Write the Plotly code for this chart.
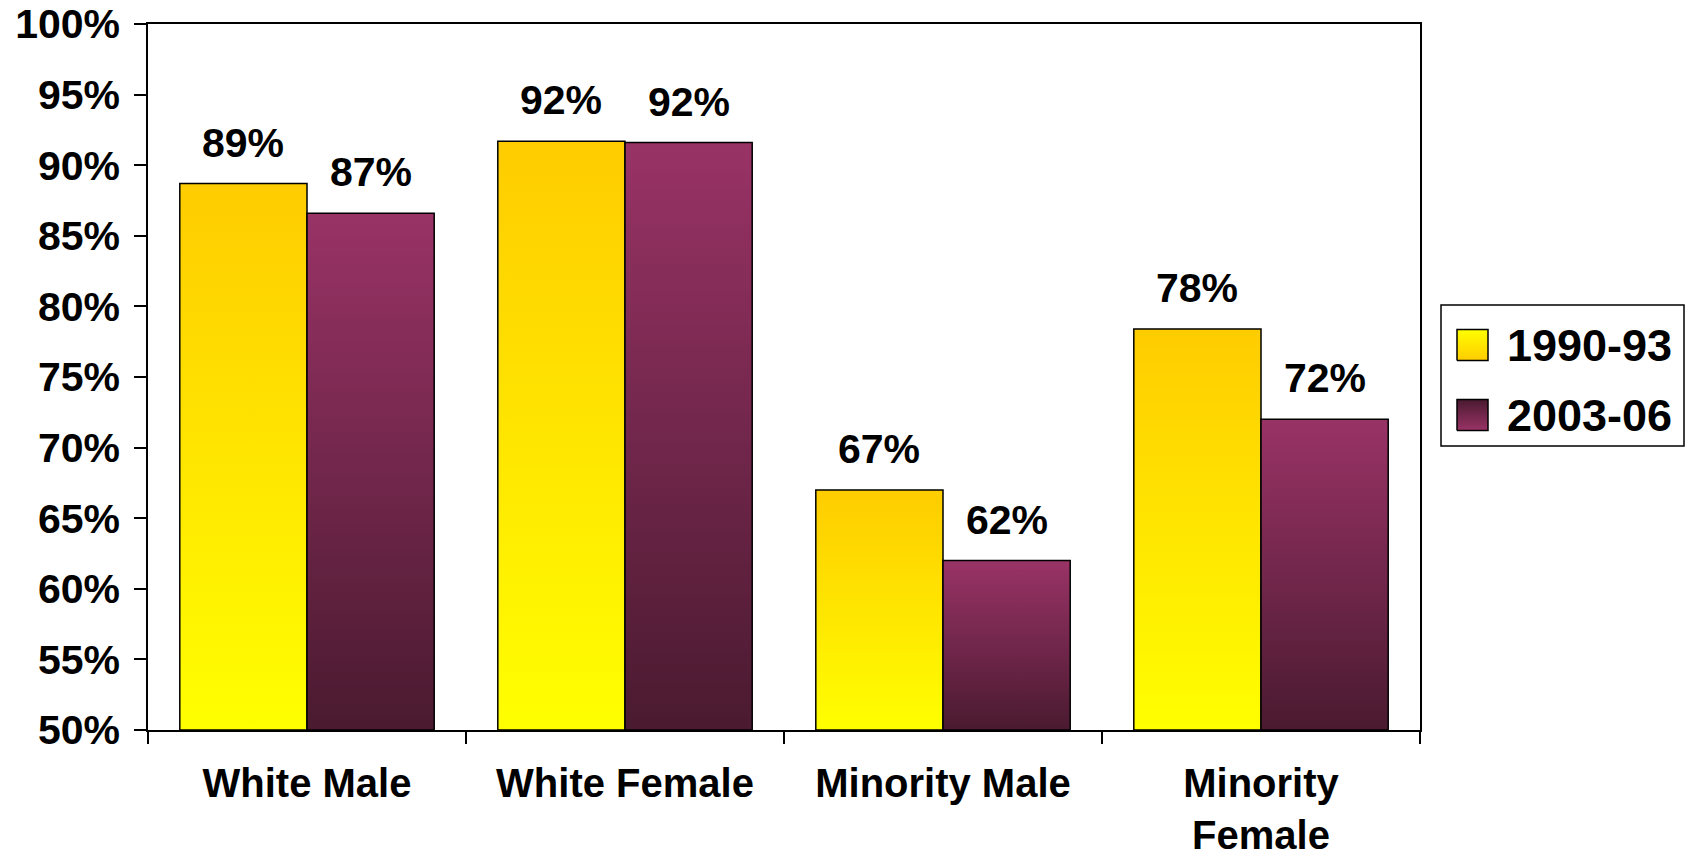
import plotly.graph_objects as go

# ---- data ----
categories = ["White Male", "White Female", "Minority Male", "Minority<br>Female"]
series_names = ["1990-93", "2003-06"]
values_1990 = [88.7, 91.7, 67.0, 78.4]
values_2003 = [86.6, 91.6, 62.0, 72.0]
y_ticks = [50, 55, 60, 65, 70, 75, 80, 85, 90, 95, 100]
y_tick_labels = [f"{v}%" for v in y_ticks]

# ---- styles ----
W, H = 1688, 859
FONT = "Liberation Sans, Arial, sans-serif"
grad_1990 = [[0, "#FFFF00"], [1, "#FFCC00"]]
grad_2003 = [[0, "#4A1A30"], [1, "#993366"]]
series = [(series_names[0], values_1990, grad_1990, -0.4),
          (series_names[1], values_2003, grad_2003, 0.0)]
bar_w = 0.4
base = y_ticks[0]

fig = go.Figure()

# bars as gradient-filled rectangles on the main axes
annotations = []
for name, vals, grad, off in series:
    for i, v in enumerate(vals):
        x0 = i + off
        x1 = x0 + bar_w
        fig.add_trace(go.Scatter(
            x=[x0, x0, x1, x1, x0], y=[base, v, v, base, base],
            mode="lines", fill="toself",
            fillgradient=dict(type="vertical", colorscale=grad),
            line=dict(color="black", width=1.5),
            name=name, showlegend=False,
            hoverinfo="text", text=f"{categories[i].replace('<br>', ' ')}: {v:.0f}%",
            xaxis="x", yaxis="y"))
        annotations.append(dict(
            x=(x0 + x1) / 2, y=v, xref="x", yref="y", text=f"{v:.0f}%",
            showarrow=False, yanchor="bottom", yshift=16,
            font=dict(family=FONT, size=41, color="black", weight="bold")))

# custom legend (box, gradient swatches, labels)
legend_box = dict(x0=1441, x1=1684, y0=305, y1=446)
swatch_rows = [345, 415]
for (name, vals, grad, off), yc in zip(series, swatch_rows):
    sx0, sx1 = 1457, 1488
    sy0, sy1 = yc - 15.5, yc + 15.5
    fig.add_trace(go.Scatter(
        x=[sx0, sx0, sx1, sx1, sx0], y=[sy1, sy0, sy0, sy1, sy1],
        mode="lines", fill="toself",
        fillgradient=dict(type="vertical", colorscale=[[0, grad[1][1]], [1, grad[0][1]]]),
        line=dict(color="black", width=1.5),
        showlegend=False, hoverinfo="skip", xaxis="x2", yaxis="y2"))
    annotations.append(dict(
        x=1505, y=yc, xref="x2", yref="y2", text=name, showarrow=False,
        xanchor="left", yanchor="middle",
        font=dict(family=FONT, size=45, color="black", weight="bold")))

shapes = [dict(type="rect", xref="x2", yref="y2",
               x0=legend_box["x0"], x1=legend_box["x1"],
               y0=legend_box["y0"], y1=legend_box["y1"],
               line=dict(color="black", width=1.5), fillcolor="rgba(0,0,0,0)")]

tick_font = dict(family=FONT, size=41, color="black", weight="bold")
xtick_font = dict(family=FONT, size=40, color="black", weight="bold")

fig.update_layout(
    width=W, height=H, autosize=False,
    margin=dict(l=0, r=0, t=0, b=0, pad=0),
    paper_bgcolor="white", plot_bgcolor="rgba(0,0,0,0)",
    showlegend=False,
    annotations=annotations, shapes=shapes,
    xaxis=dict(
        domain=[148 / W, 1420 / W], range=[-0.5, len(categories) - 0.5],
        tickmode="array", tickvals=list(range(len(categories))), ticktext=categories,
        ticks="", tickfont=xtick_font, ticklabelstandoff=17,
        minor=dict(tickmode="array", tickvals=[i - 0.5 for i in range(len(categories) + 1)],
                   ticks="outside", ticklen=12, tickwidth=1.5, tickcolor="black"),
        showline=True, linecolor="black", linewidth=1.5, mirror=True,
        showgrid=False, zeroline=False, fixedrange=True, automargin=False,
        anchor="y"),
    yaxis=dict(
        domain=[(H - 730) / H, (H - 24) / H], range=[y_ticks[0], y_ticks[-1]],
        tickmode="array", tickvals=y_ticks, ticktext=y_tick_labels,
        ticks="outside", ticklen=12, tickwidth=1.5, tickcolor="black",
        tickfont=tick_font, ticklabelstandoff=6,
        showline=True, linecolor="black", linewidth=1.5, mirror=True,
        showgrid=False, zeroline=False, fixedrange=True, automargin=False,
        anchor="x"),
    xaxis2=dict(domain=[0, 1], range=[0, W], visible=False, fixedrange=True,
                anchor="y2", automargin=False),
    yaxis2=dict(domain=[0, 1], range=[H, 0], visible=False, fixedrange=True,
                anchor="x2", automargin=False),
)

fig.write_html("out.html", config={"displayModeBar": False},
               post_script="document.body.style.margin='0';document.body.style.overflow='hidden';")
